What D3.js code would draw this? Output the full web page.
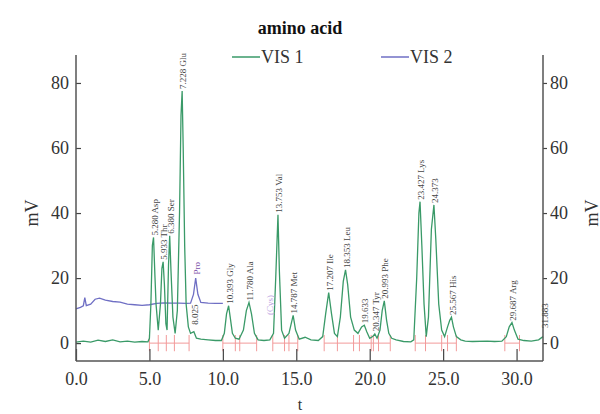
<!DOCTYPE html>
<html>
<head>
<meta charset="utf-8">
<script src="https://d3js.org/d3.v7.min.js"></script>
<style>
  body { margin: 0; background: #fff; }
  text { font-family: "Liberation Serif", "Times New Roman", serif; }
</style>
</head>
<body>
<div id="chartDiv"></div>
<script>
// VIS 1 trace (time in min, mV)
var vis1Time = [0.0, 0.5, 1.0, 1.5, 2.0, 2.5, 3.0, 3.5, 4.0, 4.5, 4.9,
    5.0, 5.1, 5.2, 5.28, 5.38, 5.45, 5.6, 5.75, 5.85, 5.933, 6.02, 6.12, 6.2, 6.3, 6.38, 6.47, 6.6, 6.75,
    6.9, 7.05, 7.15, 7.228, 7.3, 7.4, 7.5, 7.65, 7.8, 8.025, 8.2, 8.5, 9.0, 9.5, 9.9,
    10.1, 10.25, 10.393, 10.5, 10.65, 10.85, 11.1, 11.4, 11.6, 11.78, 11.95, 12.15, 12.4, 12.8, 13.2,
    13.45, 13.6, 13.753, 13.85, 14.0, 14.2, 14.5, 14.787, 14.95, 15.2, 15.6, 16.0, 16.5,
    16.8, 17.0, 17.207, 17.4, 17.6, 17.8, 18.0, 18.2, 18.353, 18.5, 18.7, 18.95, 19.2, 19.45, 19.633, 19.8,
    20.0, 20.2, 20.347, 20.5, 20.7, 20.85, 20.993, 21.15, 21.3, 21.5, 21.8, 22.3, 22.8,
    23.0, 23.2, 23.35, 23.427, 23.55, 23.7, 23.85, 24.0, 24.2, 24.373, 24.5, 24.7, 24.9, 25.1,
    25.3, 25.45, 25.567, 25.7, 25.9, 26.2, 26.5, 27.0, 28.0, 28.5, 29.0,
    29.3, 29.5, 29.687, 29.85, 30.1, 30.5, 31.0, 31.5, 31.8];
var vis1Value = [0.3, 0.6, 0.3, 0.9, 0.5, 1.0, 0.4, 0.6, 0.3, 0.5, 0.4,
    1.5, 12, 30, 32.5, 20, 12, 4, 12, 23, 25, 18, 6, 4, 24, 33, 22, 8, 3,
    10, 40, 70, 77.5, 60, 30, 12, 5, 3, 3.5, 1.5, 1.2, 1.0, 0.8, 0.8,
    3, 9, 11.5, 8, 3, 1.5, 1.2, 4, 10, 12.5, 9, 3, 1.0, 0.8, 1.0,
    3, 20, 39.5, 22, 4, 1.5, 3, 8.5, 4, 1.2, 1.8, 1.0, 0.8,
    2, 9, 15.5, 9, 3, 2, 8, 19, 22.5, 18, 8, 4, 3, 5, 5.5, 3.5,
    1.5, 2, 2.8, 1.5, 4, 10, 13, 7, 3, 1.5, 1.0, 0.5, 0.4,
    1, 20, 40, 43.5, 30, 12, 2, 8, 35, 42.5, 32, 12, 4, 2,
    5, 7, 8, 5, 2, 1.0, 0.6, 0.5, 0.6, 0.5, 0.6,
    2, 5, 6.3, 4, 1.2, 0.8, 0.6, 1.0, 2];

// VIS 2 trace
var vis2Time = [0.0, 0.3, 0.5, 0.6, 0.7, 1.0, 1.3, 1.6, 2.0, 2.5, 3.0, 3.5, 4.0, 4.5, 5.0,
    5.5, 6.0, 6.5, 7.0, 7.5, 7.8, 8.0, 8.15, 8.3, 8.5, 9.0, 9.5, 10.0];
var vis2Value = [10.5, 11.0, 11.5, 14.0, 11.5, 12.0, 13.5, 13.8, 13.2, 12.8, 12.6, 12.0, 11.8, 11.6, 11.8,
    12.2, 12.4, 12.3, 12.3, 12.2, 12.3, 15.0, 20.0, 15.0, 12.5, 12.3, 12.2, 12.2];

// peak labels
var peakLabels = ["5.280 Asp", "5.933 Thr", "6.380 Ser", "7.228 Glu", "8.025", "10.393 Gly", "11.780 Ala",
    "13.753 Val", "14.787 Met", "17.207 Ile", "18.353 Leu", "19.633", "20.347 Tyr", "20.993 Phe",
    "23.427 Lys", "24.373", "25.567 His", "29.687 Arg", "31.883"];
var peakTimes = [5.28, 5.933, 6.38, 7.228, 8.025, 10.393, 11.78, 13.753, 14.787, 17.207, 18.353, 19.633,
    20.347, 20.993, 23.427, 24.373, 25.567, 29.687, 31.883];
var peakTops = [32.5, 25, 33, 77.5, 5, 11.5, 12.5, 39.5, 8.5, 15.5, 22.5, 5.5, 3, 13, 43.5, 42.5, 8, 6.3, 4];

var vis2Labels = ["Pro", "(Cys)"];
var vis2LabelTimes = [8.15, 13.1];
var vis2LabelTops = [20.5, 8];

// integration marks
var markTimes = [5.0, 5.6, 6.15, 6.7, 7.7, 10.0, 10.85, 11.15, 12.3, 13.4, 14.2, 14.5, 15.1, 16.9, 17.8,
    18.9, 19.3, 20.1, 20.25, 20.6, 21.4, 23.1, 23.8, 24.9, 25.3, 25.9, 29.2, 30.2];
var baseStart = [5.0, 10.0, 13.4, 16.9, 23.1, 29.2];
var baseEnd = [7.7, 12.3, 15.1, 21.4, 25.9, 30.2];

var xTicks = [0, 5, 10, 15, 20, 25, 30];
var yTicks = [0, 20, 40, 60, 80];

var W = 600, H = 414;
var plotL = 76, plotR = 543, plotT = 55, plotB = 361;
var green = "#3a9a68";
var blue = "#6f6fc4";
var pink = "#f29a9a";

var svg = d3.select("#chartDiv").append("svg").attr("width", W).attr("height", H);

var x = d3.scaleLinear().domain([0, 31.8]).range([plotL, plotR]);
var y = d3.scaleLinear().domain([-5.5, 88.6]).range([plotB, plotT]);

// pink baselines and marks
svg.append("g").selectAll("line").data(baseStart).enter().append("line")
    .attr("x1", function (d) { return x(d); })
    .attr("x2", function (d, i) { return x(baseEnd[i]); })
    .attr("y1", y(0)).attr("y2", y(0))
    .style("stroke", pink).style("stroke-width", 1);

svg.append("g").selectAll("line").data(markTimes).enter().append("line")
    .attr("x1", function (d) { return x(d); })
    .attr("x2", function (d) { return x(d); })
    .attr("y1", y(-2.5)).attr("y2", y(2.5))
    .style("stroke", pink).style("stroke-width", 1);

var line = d3.line()
    .x(function (d) { return x(d[0]); })
    .y(function (d) { return y(d[1]); });

var vis2Pts = vis2Time.map(function (t, i) { return [t, vis2Value[i]]; });
var vis1Pts = vis1Time.map(function (t, i) { return [t, vis1Value[i]]; });

svg.append("path").datum(vis2Pts).attr("d", line)
    .style("fill", "none").style("stroke", blue).style("stroke-width", 1.3);
svg.append("path").datum(vis1Pts).attr("d", line)
    .style("fill", "none").style("stroke", green).style("stroke-width", 1.3);

// axes
var xAxis = svg.append("g").attr("transform", "translate(0," + plotB + ")")
    .call(d3.axisBottom(x).tickValues(xTicks).tickSize(-12).tickPadding(11)
        .tickFormat(d3.format(".1f")));
var yAxisL = svg.append("g").attr("transform", "translate(" + plotL + ",0)")
    .call(d3.axisLeft(y).tickValues(yTicks).tickSize(-5).tickPadding(7));
var yAxisR = svg.append("g").attr("transform", "translate(" + plotR + ",0)")
    .call(d3.axisRight(y).tickValues(yTicks).tickSize(4).tickPadding(3));

[xAxis, yAxisL, yAxisR].forEach(function (g) {
    g.select(".domain").attr("d", null);
    g.selectAll(".tick line").style("stroke", "#444").style("stroke-width", 1.2);
    g.selectAll("text").style("font-size", "18px").style("fill", "#333")
        .style("font-family", "Liberation Serif");
});

// axis lines
svg.append("line").attr("x1", plotL).attr("x2", plotL).attr("y1", plotT).attr("y2", plotB)
    .style("stroke", "#555").style("stroke-width", 1.5);
svg.append("line").attr("x1", plotR).attr("x2", plotR).attr("y1", plotT).attr("y2", plotB)
    .style("stroke", "#555").style("stroke-width", 1.5);
svg.append("line").attr("x1", plotL).attr("x2", plotR).attr("y1", plotB).attr("y2", plotB)
    .style("stroke", "#555").style("stroke-width", 1.5);

// peak labels
svg.append("g").selectAll("text").data(peakLabels).enter().append("text")
    .attr("transform", function (d, i) {
        return "translate(" + (x(peakTimes[i]) + 1) + "," + (y(peakTops[i]) - 2) + ") rotate(-90)";
    })
    .attr("dy", ".35em").attr("text-anchor", "start")
    .style("font-size", "9px").style("fill", "#444")
    .text(function (d) { return d; });

svg.append("g").selectAll("text").data(vis2Labels).enter().append("text")
    .attr("transform", function (d, i) {
        return "translate(" + (x(vis2LabelTimes[i]) + 1) + "," + (y(vis2LabelTops[i]) - 2) + ") rotate(-90)";
    })
    .attr("dy", ".35em").attr("text-anchor", "start")
    .style("font-size", "9px").style("fill", function (d, i) { return i == 0 ? "#7a4ea8" : "#b9a0e0"; })
    .text(function (d) { return d; });

// title, axis titles
svg.append("text").attr("x", 300).attr("y", 34).attr("text-anchor", "middle")
    .style("font-size", "18px").style("font-weight", "bold").style("fill", "#111")
    .text("amino acid");
svg.append("text").attr("x", 300).attr("y", 410).attr("text-anchor", "middle")
    .style("font-size", "16px").style("fill", "#333").text("t");
svg.append("text").attr("transform", "translate(38,213) rotate(-90)").attr("text-anchor", "middle")
    .style("font-size", "18px").style("fill", "#333").text("mV");
svg.append("text").attr("transform", "translate(598,213) rotate(-90)").attr("text-anchor", "middle")
    .style("font-size", "18px").style("fill", "#333").text("mV");

// legend
var legendItems = [{ name: "VIS 1", color: green, x: 232 }, { name: "VIS 2", color: blue, x: 381 }];
var legend = svg.append("g").selectAll("g").data(legendItems).enter().append("g")
    .attr("transform", function (d) { return "translate(" + d.x + ",57)"; });
legend.append("line").attr("x1", 0).attr("x2", 28).attr("y1", 0).attr("y2", 0)
    .style("stroke", function (d) { return d.color; }).style("stroke-width", 1.5);
legend.append("text").attr("x", 29).attr("dy", ".35em")
    .style("font-size", "18px").style("fill", "#333")
    .text(function (d) { return d.name; });
</script>
</body>
</html>
